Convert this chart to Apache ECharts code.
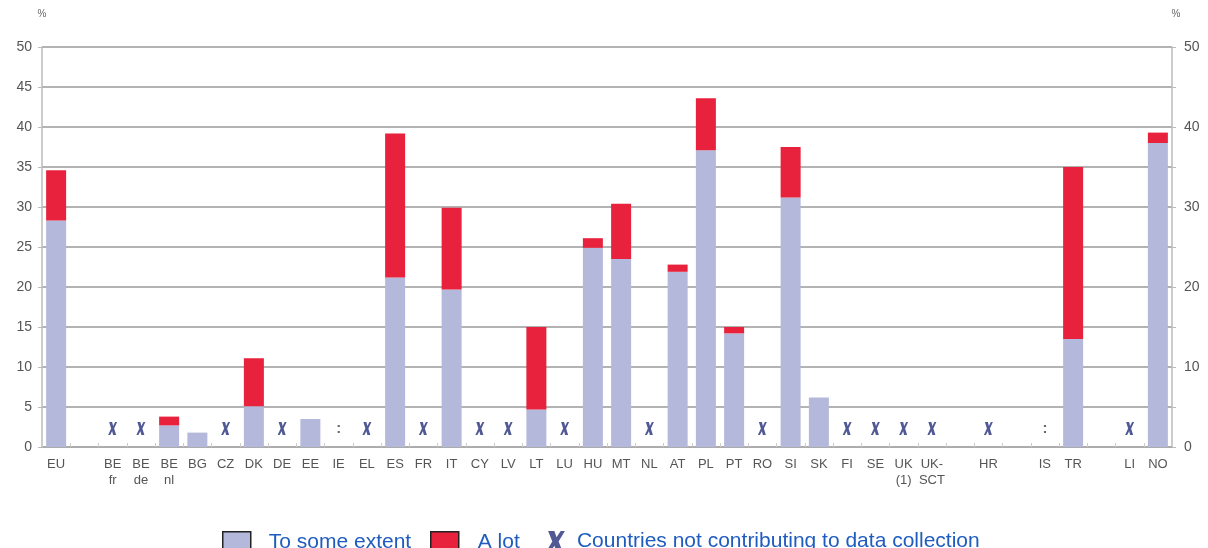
<!DOCTYPE html>
<html>
<head>
<meta charset="utf-8">
<script src="https://cdn.jsdelivr.net/npm/echarts@6/dist/echarts.min.js"></script>
<style>
  html, body { margin: 0; padding: 0; background: #fff; }
  #chart { width: 1208px; height: 548px; }
</style>
</head>
<body>
<div id="chart"></div>
<script>
// categories (blank strings are spacer slots)
const categories = ['EU', ' ', 'BE\nfr', 'BE\nde', 'BE\nnl', 'BG', 'CZ', 'DK', 'DE', 'EE', 'IE', 'EL', 'ES', 'FR',
  'IT', 'CY', 'LV', 'LT', 'LU', 'HU', 'MT', 'NL', 'AT', 'PL', 'PT', 'RO', 'SI', 'SK', 'FI', 'SE',
  'UK\n(1)', 'UK-\nSCT', '  ', 'HR', '   ', 'IS', 'TR', '    ', 'LI', 'NO'];
const someExtent = [28.3, null, null, null, 2.7, 1.8, null, 5.1, null, 3.5, null, null, 21.2, null,
  19.7, null, null, 4.7, null, 24.9, 23.5, null, 21.9, 37.1, 14.2, null, 31.2, 6.2, null, null,
  null, null, null, null, null, null, 13.5, null, null, 38.0];
const aLot = [6.3, null, null, null, 1.1, null, null, 6.0, null, null, null, null, 18.0, null,
  10.2, null, null, 10.3, null, 1.2, 6.9, null, 0.9, 6.5, 0.8, null, 6.3, null, null, null,
  null, null, null, null, null, null, 21.5, null, null, 1.3];
const notContributing = ['BE\nfr', 'BE\nde', 'CZ', 'DE', 'EL', 'FR', 'CY', 'LV', 'LU', 'NL', 'RO',
  'FI', 'SE', 'UK\n(1)', 'UK-\nSCT', 'HR', 'LI'];
const notAvailable = ['IE', 'IS'];
const markerLevel = 2.3;
const leftTicks = [0, 5, 10, 15, 20, 25, 30, 35, 40, 45, 50];

const FONT = "'Liberation Sans', Arial, sans-serif";
const xPath = 'path://M2,0 L8,0 L10,6 L14,0 L18,0 L12,10 L16,20 L10,20 L8,14 L4,20 L0,20 L6,10 Z';
const legendText = { fontFamily: FONT, fontSize: 21, color: '#1f5cbf' };

const myChart = echarts.init(document.getElementById('chart'));

const option = {
  animation: false,
  grid: { left: 42, right: 36, top: 47, bottom: 101 },
  legend: [
    {
      left: 222, top: 531, padding: 0, icon: 'rect',
      itemWidth: 28, itemHeight: 20,
      textStyle: Object.assign({ padding: [0, 0, 0, 13] }, legendText),
      data: [{ name: 'To some extent', itemStyle: { borderColor: '#222', borderWidth: 1.5 } }]
    },
    {
      left: 430, top: 531, padding: 0, icon: 'rect',
      itemWidth: 28, itemHeight: 20,
      textStyle: Object.assign({ padding: [0, 0, 0, 14] }, legendText),
      data: [{ name: 'A lot', itemStyle: { borderColor: '#222', borderWidth: 1.5 } }]
    },
    {
      left: 546, top: 531, padding: 0,
      itemWidth: 19, itemHeight: 21,
      textStyle: Object.assign({ padding: [0, 0, 0, 7] }, legendText),
      data: [{ name: 'Countries not contributing to data collection', icon: xPath }]
    }
  ],
  xAxis: {
    type: 'category',
    data: categories,
    axisLine: { lineStyle: { color: '#aaa', width: 1.5 } },
    axisTick: { show: true, inside: true, length: 4, lineStyle: { color: '#ccc' } },
    axisLabel: { fontFamily: FONT, fontSize: 13, color: '#555', interval: 0, lineHeight: 16, margin: 9 }
  },
  yAxis: [
    {
      type: 'value', min: 0, max: 50, interval: 5,
      name: '%', nameGap: 28,
      nameTextStyle: { fontFamily: FONT, fontSize: 10, color: '#666', align: 'center' },
      axisLine: { show: true, lineStyle: { color: '#bbb', width: 1.5 } },
      axisTick: { show: true, length: 4, lineStyle: { color: '#bbb' } },
      axisLabel: {
        fontFamily: FONT, fontSize: 14, color: '#555', margin: 10,
        formatter: v => (leftTicks.includes(v) ? String(v) : '')
      },
      splitLine: { lineStyle: { color: '#9a9a9a', width: 1.5 } }
    },
    {
      type: 'value', min: 0, max: 50, interval: 10, position: 'right',
      name: '%', nameGap: 28,
      nameTextStyle: { fontFamily: FONT, fontSize: 10, color: '#666', align: 'center', padding: [0, 0, 0, 8] },
      axisLine: { show: true, lineStyle: { color: '#bbb', width: 1.5 } },
      axisTick: { show: true, length: 4, lineStyle: { color: '#bbb' } },
      minorTick: { show: true, splitNumber: 2, length: 4, lineStyle: { color: '#bbb' } },
      axisLabel: { fontFamily: FONT, fontSize: 14, color: '#555', margin: 12 },
      splitLine: { show: false }
    }
  ],
  series: [
    {
      name: 'To some extent',
      type: 'bar',
      stack: 'total',
      barWidth: 20,
      itemStyle: { color: '#b4b9db' },
      data: someExtent
    },
    {
      name: 'A lot',
      type: 'bar',
      stack: 'total',
      barWidth: 20,
      itemStyle: { color: '#e8213d' },
      data: aLot
    },
    {
      name: 'Countries not contributing to data collection',
      type: 'scatter',
      symbol: xPath,
      symbolSize: [9, 13],
      itemStyle: { color: '#26307a' },
      z: 5,
      data: notContributing.map(c => [categories.indexOf(c), markerLevel])
    },
    {
      name: 'not available',
      type: 'scatter',
      symbolSize: 0,
      label: {
        show: true, position: 'inside', formatter: ':',
        fontFamily: FONT, fontSize: 15, fontWeight: 'bold', color: '#444'
      },
      data: notAvailable.map(c => [categories.indexOf(c), markerLevel])
    }
  ]
};
myChart.setOption(option);
</script>
</body>
</html>
